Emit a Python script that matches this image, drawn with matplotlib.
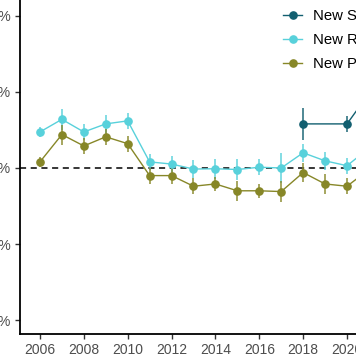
import numpy as np
import matplotlib
matplotlib.use("Agg")
import matplotlib.pyplot as plt
from matplotlib.ticker import FuncFormatter

plt.rcParams['font.family'] = ['Liberation Sans', 'DejaVu Sans']

years_s = [2018, 2020, 2021]
new_s = [2.9, 2.9, 4.9]
new_s_err = [1.05, 0.55, 0.6]

years = list(range(2006, 2022))
new_r = [2.37, 3.2, 2.37, 2.9, 3.1, 0.4, 0.26, -0.07, -0.05, -0.1, 0.05, 0.0, 1.0, 0.47, 0.15, 1.3]
new_r_err = [0.3, 0.7, 0.53, 0.6, 0.53, 0.53, 0.53, 0.6, 0.66, 0.66, 0.53, 1.0, 0.6, 0.6, 0.53, 0.6]
new_p = [0.4, 2.2, 1.45, 2.05, 1.6, -0.5, -0.5, -1.2, -1.05, -1.5, -1.5, -1.55, -0.3, -1.05, -1.2, -0.1]
new_p_err = [0.33, 0.66, 0.53, 0.53, 0.53, 0.53, 0.53, 0.53, 0.46, 0.66, 0.46, 0.72, 0.6, 0.66, 0.53, 0.6]

labels = ["New S", "New R", "New P"]
colors = ["#125f70", "#58d1db", "#878728"]
yticks = [-10, -5, 0, 5, 10]
xticks = list(range(2006, 2022, 2))

W, H = 356, 364
fig = plt.figure(figsize=(W / 100, H / 100), dpi=100)
ax = fig.add_axes([20 / W, 30 / H, (W - 20) / W, 334 / H])

series = [(years_s, new_s, new_s_err), (years, new_r, new_r_err), (years, new_p, new_p_err)]
handles = []
for (x, y, e), c, lab in zip(series, colors, labels):
    ax.errorbar(x, y, yerr=e, fmt='none', ecolor=c, elinewidth=1.3, alpha=0.8, capsize=0, zorder=3)
    h, = ax.plot(x, y, color=c, lw=1.0, marker='o', ms=5.2, label=lab, zorder=4)
    handles.append(h)

ax.axhline(0, color='black', lw=1.1, ls=(0, (4, 3)), zorder=2)

ax.set_xticks(xticks)
ax.set_yticks(yticks)
ax.set_xlim(2005.09, 2020.41)
ax.set_ylim(-10.92, 11.05)
ax.yaxis.set_major_formatter(FuncFormatter(lambda v, p: f"{v:.0f}%"))

for s in ['top', 'right']:
    ax.spines[s].set_visible(False)
for s in ['left', 'bottom']:
    ax.spines[s].set_linewidth(1.3)
    ax.spines[s].set_color('black')
ax.tick_params(axis='both', length=3.5, width=1.0, color='#333333', labelcolor='#4d4d4d',
               labelsize=10, pad=3)

leg = ax.legend(handles=handles, loc='upper left', bbox_to_anchor=(283 / W, 1 - 9 / H),
                bbox_transform=fig.transFigure, frameon=False, fontsize=10.7,
                handlelength=1.3, handletextpad=0.72, labelspacing=0.68,
                borderpad=0, borderaxespad=0)

fig.savefig("out.png", dpi=100)
